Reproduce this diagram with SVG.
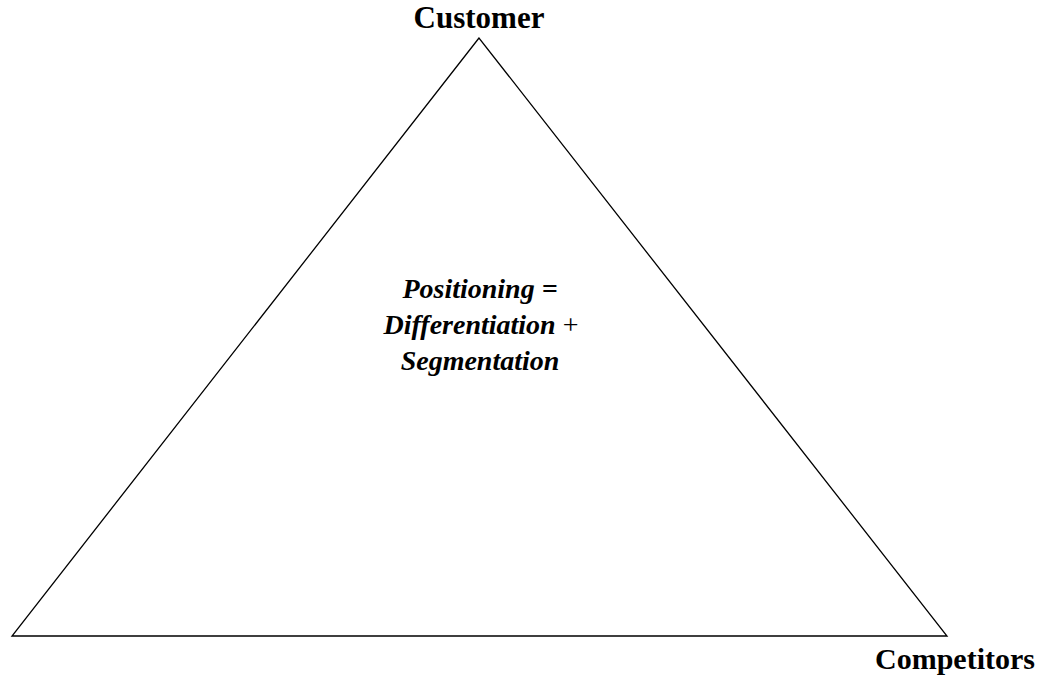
<svg xmlns="http://www.w3.org/2000/svg" width="1045" height="683" viewBox="0 0 1045 683">
<style>
.lbl{font-family:"Liberation Serif","Times New Roman",serif;font-weight:bold;font-size:31px;fill:#000}
.ctr{font-family:"Liberation Serif","Times New Roman",serif;font-weight:bold;font-style:italic;font-size:28px;fill:#000}
.reg{font-style:normal;font-weight:normal}
</style>
<rect width="1045" height="683" fill="#fff"/>
<g id="connectors">
<polygon points="479,38 12,636 947,636" fill="none" stroke="#000" stroke-width="1.3"/>
</g>
<g id="customer"><text class="lbl" x="479" y="28" text-anchor="middle">Customer</text></g>
<g id="competitors"><text class="lbl" x="955" y="669" text-anchor="middle" style="font-size:30px">Competitors</text></g>
<g id="positioning">
<text class="ctr" x="480" y="298" text-anchor="middle">Positioning =</text>
<text class="ctr" x="481" y="334" text-anchor="middle">Differentiation <tspan class="reg">+</tspan></text>
<text class="ctr" x="480" y="370" text-anchor="middle">Segmentation</text>
</g>
</svg>
